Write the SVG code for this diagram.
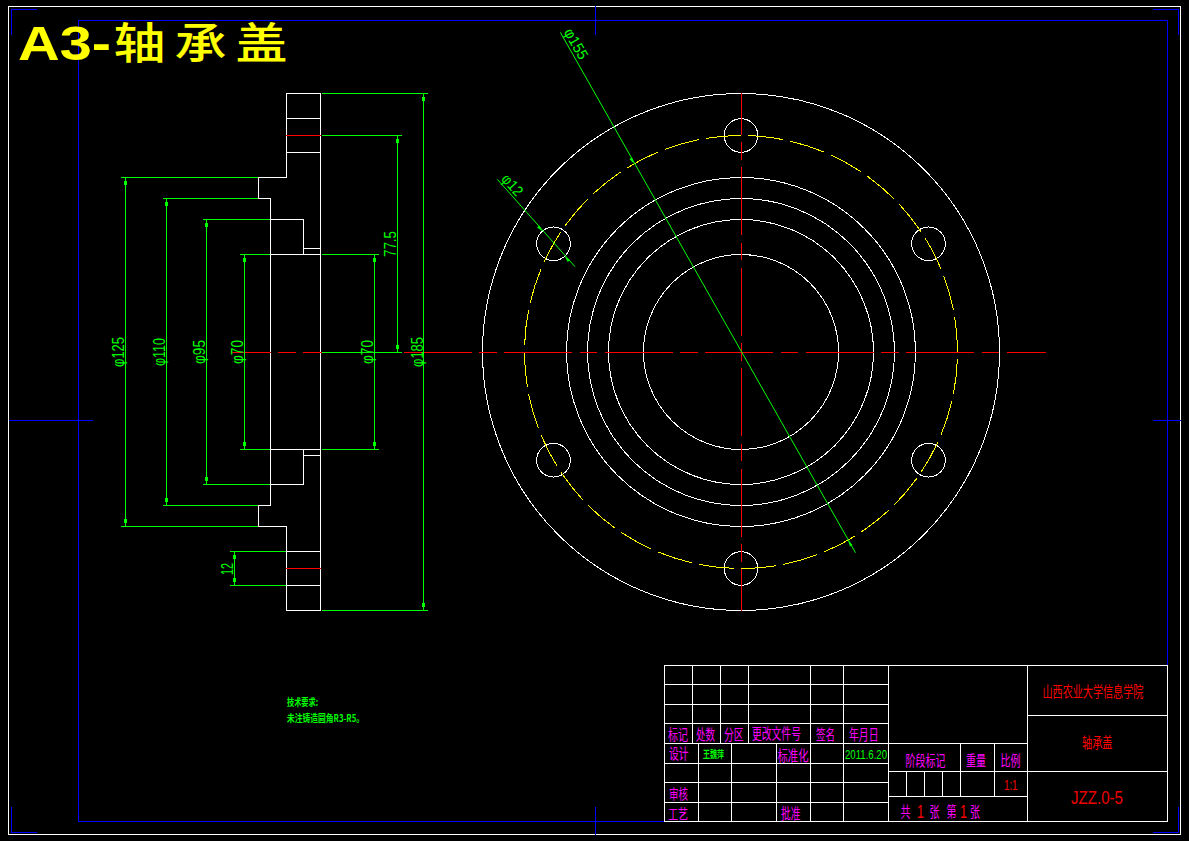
<svg xmlns="http://www.w3.org/2000/svg" width="1189" height="841" viewBox="0 0 1189 841">
<style>
.g{fill:none;shape-rendering:crispEdges;stroke-width:1}
.w{stroke:#fff}.b{stroke:#00f}.r{stroke:#f00}.n{stroke:#0f0}.y{stroke:#ff0}
.cl{stroke-dasharray:68.3 7.5 17.2 7.5}
.a{fill:#0f0;shape-rendering:crispEdges}
.ah{fill:#0f0}
text{font-family:"Noto Sans CJK SC","Liberation Sans",sans-serif;font-size:15px;white-space:pre}
.m{fill:#f0f}.t{fill:#f00}.l{fill:#0f0}
.d{font-family:"Liberation Sans",sans-serif;font-size:17px;fill:#0f0;font-weight:400}
.s{font-size:10px;fill:#0f0;font-weight:700}
.thin{font-family:"Liberation Sans",sans-serif;font-weight:400}
</style>
<rect width="1189" height="841" fill="#000"/>
<g id="frame" class="g">
<rect class="w" x="8.5" y="6.5" width="1172" height="828" fill="none"/>
<path class="b" d="M78.5 20.5H1167.5V821.5H78.5Z"/>
<path class="b" d="M11.5 35V9.5H37M1153 9.5H1178.5V35M1178.5 807V832.5H1153M37 832.5H11.5V807M595.5 6V35M595.5 807V835M9 420.5H93M1153 420.5H1181"/>
</g>
<g id="side-view" class="g">
<path class="w" d="M320.5 93.5H286.5V177.5H258.5V198.5H270.5V505.5H258.5V526.5H286.5V610.5H320.5ZM286.5 118.5H320.5M286.5 152.5H320.5M270.5 219.5H303.5V254.5M303.5 248.5H320.5M270.5 254.5H320.5M270.5 449.5H320.5M303.5 449.5V484.5H270.5M303.5 455.5H320.5M286.5 551.5H320.5M286.5 585.5H320.5"/>
<path class="r" d="M286 135.5H321M286 568.5H321"/>
</g>
<g id="front-view" class="g">
<g class="w">
<circle cx="741" cy="352" r="258.5"/>
<circle cx="741" cy="352" r="174.5"/>
<circle cx="741" cy="352" r="153.5"/>
<circle cx="741" cy="352" r="132.5"/>
<circle cx="741" cy="352" r="97.5"/>
<circle cx="741" cy="135.5" r="16.8"/>
<circle cx="741" cy="568.5" r="16.8"/>
<circle cx="553.5" cy="243.75" r="16.8"/>
<circle cx="928.5" cy="243.75" r="16.8"/>
<circle cx="553.5" cy="460.25" r="16.8"/>
<circle cx="928.5" cy="460.25" r="16.8"/>
</g>
<circle class="y" cx="741" cy="352" r="216.5" pathLength="32" stroke-dasharray="0.83 0.17" stroke-dashoffset="0.83"/>
<path class="r cl" d="M741.5 93V610.5" stroke-dashoffset="26.5"/>
<path class="r cl" d="M232 352.5H1046" stroke-dashoffset="29.5"/>
</g>
<g id="dimensions">
<g class="g n">
<path d="M322 93.5H428M322 135.5H402M322 254.5H379M322 352.5H402M322 449.5H379M322 610.5H428M121 177.5H258M163 198.5H258M203 219.5H270M240 254.5H270M240 449.5H270M203 484.5H270M163 505.5H258M121 526.5H258M230 551.5H286M230 585.5H286"/>
<path d="M423.5 93.5V610.5M397.5 135.5V352.5M374.5 254.5V449.5M244.5 254.5V449.5M206.5 219.5V484.5M166.5 198.5V505.5M125.5 177.5V526.5M234.5 551.5V585.5"/>
<path d="M560.3 32.3L855.5 552.7M497.3 179.3L575 266.7" shape-rendering="auto"/>
</g>
<g id="arrows">
<rect class="a" x="422" y="97" width="3" height="4"/><rect class="a" x="422" y="603" width="3" height="4"/>
<rect class="a" x="396" y="139" width="3" height="4"/><rect class="a" x="396" y="345" width="3" height="4"/>
<rect class="a" x="373" y="258" width="3" height="4"/><rect class="a" x="373" y="442" width="3" height="4"/>
<rect class="a" x="243" y="258" width="3" height="4"/><rect class="a" x="243" y="442" width="3" height="4"/>
<rect class="a" x="205" y="223" width="3" height="4"/><rect class="a" x="205" y="477" width="3" height="4"/>
<rect class="a" x="165" y="202" width="3" height="4"/><rect class="a" x="165" y="498" width="3" height="4"/>
<rect class="a" x="124" y="181" width="3" height="4"/><rect class="a" x="124" y="519" width="3" height="4"/>
<rect class="a" x="233" y="555" width="3" height="4"/><rect class="a" x="233" y="578" width="3" height="4"/>
<path class="ah" d="M634 163.7L632 157.6L629.4 159ZM848 540.3L850 546.4L852.6 545ZM542.3 231.2L537.1 227.6L539.3 225.6ZM564.7 256.3L569.9 259.9L567.7 261.9Z"/>
</g>
<g id="dim-labels">
<text class="d" transform="translate(124 367) rotate(-90)" textLength="30" lengthAdjust="spacingAndGlyphs">φ125</text>
<text class="d" transform="translate(165 366) rotate(-90)" textLength="28" lengthAdjust="spacingAndGlyphs">φ110</text>
<text class="d" transform="translate(205 364) rotate(-90)" textLength="24" lengthAdjust="spacingAndGlyphs">φ95</text>
<text class="d" transform="translate(243 364) rotate(-90)" textLength="24" lengthAdjust="spacingAndGlyphs">φ70</text>
<text class="d" transform="translate(373 364) rotate(-90)" textLength="24" lengthAdjust="spacingAndGlyphs">φ70</text>
<text class="d" transform="translate(423 367) rotate(-90)" textLength="30" lengthAdjust="spacingAndGlyphs">φ185</text>
<text class="d" transform="translate(396 257) rotate(-90)" textLength="26" lengthAdjust="spacingAndGlyphs">77.5</text>
<text class="d" transform="translate(233 575) rotate(-90)" textLength="12" lengthAdjust="spacingAndGlyphs">12</text>
<text class="d" style="font-size:15px" transform="translate(563.5 32) rotate(60.4)" textLength="33" lengthAdjust="spacingAndGlyphs">φ155</text>
<text class="d" style="font-size:15px" transform="translate(500.5 179.5) rotate(48)" textLength="24" lengthAdjust="spacingAndGlyphs">φ12</text>
</g>
</g>
<g id="title-block">
<g class="g w">
<rect x="664.5" y="665.5" width="503" height="156"/>
<path d="M664.5 684.5H888.5M664.5 704.5H888.5M664.5 723.5H888.5M664.5 743.5H1027.5M664.5 763.5H888.5M664.5 782.5H888.5M664.5 802.5H888.5"/>
<path d="M692.5 665.5V743.5M720.5 665.5V743.5M748.5 665.5V743.5M810.5 665.5V821.5M843.5 665.5V821.5M888.5 665.5V821.5M1027.5 665.5V821.5"/>
<path d="M698.5 743.5V821.5M731.5 743.5V821.5M776.5 743.5V821.5"/>
<path d="M1027.5 715.5H1167.5M888.5 771.5H1167.5M888.5 796.5H1027.5M960.5 743.5V796.5M994.5 743.5V796.5M906.5 771.5V796.5M924.5 771.5V796.5M942.5 771.5V796.5"/>
</g>
<g id="labels">
<text class="m" x="668" y="740" textLength="20" lengthAdjust="spacingAndGlyphs">标记</text>
<text class="m" x="696" y="740" textLength="19" lengthAdjust="spacingAndGlyphs">处数</text>
<text class="m" x="724" y="740" textLength="19.5" lengthAdjust="spacingAndGlyphs">分区</text>
<text class="m" transform="translate(752 739) scale(.653 1)">更改文件号</text>
<text class="m" x="816" y="740" textLength="19" lengthAdjust="spacingAndGlyphs">签名</text>
<text class="m" x="849" y="740" textLength="29.5" lengthAdjust="spacingAndGlyphs">年月日</text>
<text class="m" x="669" y="759" textLength="19.5" lengthAdjust="spacingAndGlyphs">设计</text>
<text class="l" style="font-size:10px;font-weight:700" x="703" y="758" textLength="21" lengthAdjust="spacingAndGlyphs">王魏萍</text>
<text class="m" x="777.5" y="761" textLength="31" lengthAdjust="spacingAndGlyphs">标准化</text>
<text class="l" style="font-family:'Liberation Sans',sans-serif;font-size:13px" x="845" y="758.5" textLength="42" lengthAdjust="spacingAndGlyphs">2011.6.20</text>
<text class="m" style="font-size:13.5px" x="669" y="799" textLength="19" lengthAdjust="spacingAndGlyphs">审核</text>
<text class="m" style="font-size:13.5px" x="668" y="819" textLength="20" lengthAdjust="spacingAndGlyphs">工艺</text>
<text class="m" x="781" y="819" textLength="19.5" lengthAdjust="spacingAndGlyphs">批准</text>
<text class="m" x="905.5" y="765.5" textLength="40" lengthAdjust="spacingAndGlyphs">阶段标记</text>
<text class="m" x="966" y="766" textLength="20" lengthAdjust="spacingAndGlyphs">重量</text>
<text class="m" x="1000.5" y="766" textLength="20" lengthAdjust="spacingAndGlyphs">比例</text>
<text class="t thin" style="font-size:15px" x="1004" y="790" textLength="13.5" lengthAdjust="spacingAndGlyphs">1:1</text>
<text class="m" x="900.5" y="817" textLength="10" lengthAdjust="spacingAndGlyphs">共</text>
<text class="t thin" style="font-size:18px" x="917" y="818" textLength="7" lengthAdjust="spacingAndGlyphs">1</text>
<text class="m" x="929.5" y="817" textLength="10" lengthAdjust="spacingAndGlyphs">张</text>
<text class="m" x="946.5" y="817" textLength="10" lengthAdjust="spacingAndGlyphs">第</text>
<text class="t thin" style="font-size:18px" x="960" y="818" textLength="7" lengthAdjust="spacingAndGlyphs">1</text>
<text class="m" x="970" y="817" textLength="10" lengthAdjust="spacingAndGlyphs">张</text>
<text class="t" transform="translate(1042.5 697) scale(.673 1)">山西农业大学信息学院</text>
<text class="t" x="1082" y="748" textLength="30.5" lengthAdjust="spacingAndGlyphs">轴承盖</text>
<text class="t thin" style="font-size:18px;fill:#e00" x="1071" y="803.5" textLength="52" lengthAdjust="spacingAndGlyphs">JZZ.0-5</text>
</g>
</g>
<g id="tech-note">
<text class="s" x="287" y="706" textLength="31" lengthAdjust="spacingAndGlyphs">技术要求:</text>
<text class="s" x="287" y="721.5" textLength="77" lengthAdjust="spacingAndGlyphs">未注铸造圆角R3-R5。</text>
</g>
<g id="sheet-title">
<text style="font-family:'Liberation Sans',sans-serif;font-size:49px;font-weight:700;fill:#ff0" x="18" y="60" textLength="93" lengthAdjust="spacingAndGlyphs">A3-</text>
<text style="font-size:52px;font-weight:500;fill:#ff0" transform="translate(113.5 59) scale(1 .84)" textLength="174" lengthAdjust="spacing">轴承盖</text>
</g>
</svg>
